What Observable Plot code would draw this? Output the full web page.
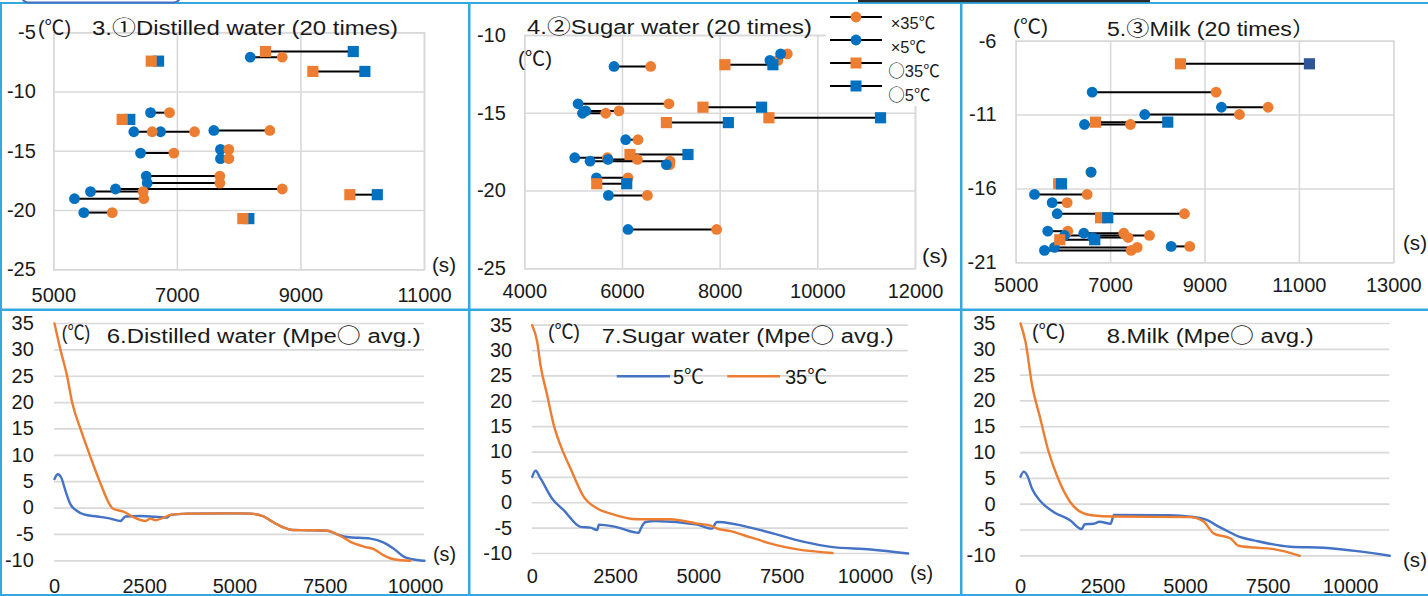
<!DOCTYPE html>
<html><head><meta charset="utf-8">
<script src="https://cdn.jsdelivr.net/npm/d3@7"></script>
<script src="https://cdn.jsdelivr.net/npm/@observablehq/plot@0.6"></script>
<style>
body{margin:0;background:#fff;}
#wrap{position:relative;width:1428px;height:596px;overflow:hidden;background:#fff;}
#wrap > div{position:absolute;}
#wrap svg{display:block;}
</style></head><body><div id="wrap"></div>
<script>
// ---------- Panel 3: Distilled water (20 times) ----------
const p3_x_temp = [-11.74, -13.35, -13.35, -13.24, -15.15, -14.84, -15.62, -17.09, -17.68, -18.18, -18.40, -19.00, -20.17, -7.06];
const p3_x_t5   = [6566, 6295, 6728, 7590, 6404, 7698, 7698, 6496, 6512, 5999, 5594, 5335, 5486, 8180];
const p3_x_t35  = [6873, 6593, 7278, 8497, 6943, 7833, 7833, 7688, 7688, 8698, 6447, 6457, 5946, 8698];
const p3_o_temp = [-7.39, -12.31, -6.58, -8.26, -18.66, -20.68];
const p3_o_t5   = [6695, 6230, 9847, 10035, 10236, 8157];
const p3_o_t35  = [6577, 6107, 8427, 9193, 9792, 8060];
const p3_xTicks = [5000, 7000, 9000, 11000];
const p3_yTicks = [-25, -20, -15, -10, -5];

// ---------- Panel 4: Sugar water (20 times) ----------
const p4_x_temp = [-11.99, -14.39, -15.00, -14.85, -11.60, -11.18, -16.70, -17.86, -17.97, -18.08, -18.30, -19.15, -20.28, -22.47];
const p4_x_t5   = [5827, 5091, 5181, 5248, 9019, 9238, 6066, 5023, 5704, 5336, 6899, 5467, 5712, 6114];
const p4_x_t35  = [6578, 6952, 5657, 5929, 9183, 9375, 6318, 5692, 6306, 6973, 6967, 6114, 6510, 7928];
const p4_o_temp = [-14.61, -15.60, -15.29, -11.88, -17.65, -19.53];
const p4_o_t5   = [8849, 8168, 11284, 9080, 7341, 6087];
const p4_o_t35  = [7648, 6899, 8998, 8098, 6154, 5473];
const p4_xTicks = [4000, 6000, 8000, 10000, 12000];
const p4_yTicks = [-25, -20, -15, -10];

// ---------- Panel 5: Milk (20 times) ----------
const p5_x_temp = [-9.45, -10.96, -10.47, -11.64, -14.86, -16.37, -16.93, -17.68, -18.86, -19.15, -19.00, -19.29, -19.89, -20.16, -19.96];
const p5_x_t5   = [6610, 7724, 9348, 6447, 6589, 5388, 5762, 5868, 5669, 6023, 6432, 6622, 8283, 5599, 5811];
const p5_x_t35  = [9236, 9730, 10337, 7421, 6580, 6504, 6080, 8565, 6093, 7824, 7279, 7372, 8677, 7436, 7563];
const p5_o_temp = [-7.53, -11.48, -15.65, -17.95, -19.44];
const p5_o_t5   = [11212, 8211, 5960, 6940, 6665];
const p5_o_t35  = [8480, 6680, 5900, 6788, 5923];
const p5_xTicks = [5000, 7000, 9000, 11000, 13000];
const p5_yTicks = [-21, -16, -11, -6];

// ---------- Bottom panels: average curves ----------
const d6_time5  = [0, 92, 185, 305, 443, 628, 812, 1182, 1551, 1828, 1967, 2382, 3122, 3213, 3675, 4875, 5429, 5798, 6075, 6352, 6584, 7000, 7554, 7831, 8108, 8753, 9122, 9399, 9676, 10047, 10249];
const d6_temp5  = [5.5, 6.4, 5.8, 3.25, 0.7, -0.55, -1.2, -1.6, -2.0, -2.45, -1.6, -1.5, -1.8, -1.3, -1.05, -1.0, -1.05, -1.6, -2.75, -3.7, -4.15, -4.2, -4.3, -4.97, -5.48, -5.8, -6.55, -7.7, -9.2, -9.85, -10.0];
const d6_time35 = [0, 166, 350, 490, 720, 980, 1255, 1600, 1690, 1920, 2152, 2521, 2659, 2798, 3028, 3213, 3675, 5152, 5429, 5798, 6075, 6352, 6584, 7000, 7554, 7922, 8199, 8568, 8845, 9122, 9399, 9861];
const d6_temp35 = [35, 30, 25, 20, 15, 10, 5, 0, -0.3, -0.7, -1.6, -2.45, -2.0, -2.3, -1.8, -1.3, -1.05, -1.0, -1.05, -1.6, -2.75, -3.7, -4.15, -4.2, -4.3, -5.3, -6.4, -7.3, -7.8, -8.96, -9.7, -10.0];

const d7_time5  = [0, 100, 250, 600, 950, 1450, 1750, 1950, 2000, 2500, 3200, 3250, 3400, 3700, 4950, 5400, 5500, 5555, 6855, 8155, 8960, 10160, 11280];
const d7_temp5  = [5.1, 6.3, 4.8, 0.8, -1.5, -4.75, -4.9, -5.4, -4.3, -4.75, -5.9, -5.2, -3.8, -3.6, -4.3, -5.1, -4.0, -3.8, -5.4, -7.7, -8.7, -9.2, -10.0];
const d7_time35 = [0, 150, 249, 450, 648, 849, 1149, 1548, 1950, 2349, 3150, 4149, 4950, 5354, 5555, 5955, 6355, 7360, 7960, 9010];
const d7_temp35 = [35, 31.7, 27.1, 21.2, 15.3, 11.3, 6.75, 1.16, -1.14, -2.13, -3.25, -3.25, -4.1, -4.5, -5.1, -5.6, -6.4, -8.4, -9.2, -9.9];

const d8_time5  = [0, 100, 200, 350, 600, 1000, 1500, 1850, 1950, 2200, 2400, 2730, 2830, 4500, 5150, 5660, 5960, 6265, 6615, 7070, 8180, 9190, 10200, 11190];
const d8_temp5  = [5.3, 6.3, 5.6, 3.0, 0.6, -1.5, -3.1, -4.8, -3.9, -3.8, -3.4, -3.8, -2.1, -2.15, -2.4, -3.1, -4.2, -5.2, -6.3, -7.0, -8.25, -8.45, -9.1, -10.0];
const d8_time35 = [0, 150, 350, 600, 850, 1100, 1500, 1820, 2220, 2820, 5150, 5555, 5860, 6365, 6615, 7070, 7675, 8465];
const d8_temp35 = [35, 31.5, 23.1, 16.6, 10.2, 5.6, 0.47, -1.5, -2.2, -2.4, -2.5, -3.4, -5.7, -6.65, -8.06, -8.4, -8.7, -10.0];

const line_xTicks = [0, 2500, 5000, 7500, 10000];
const line_yTicks = [-10, -5, 0, 5, 10, 15, 20, 25, 30, 35];

// ---------- styling ----------
const FONT = '"Liberation Sans", Arial, "Noto Sans CJK JP", sans-serif';
const CJK = '"Noto Sans CJK JP", "Noto Sans CJK SC", sans-serif';
const ORANGE = "#ED7D31", BLUE = "#0070C0", LBLUE = "#4472C4", GRID = "#D9D9D9", TXT = "#1a1a1a";
const wrap = document.getElementById("wrap");

function place(node, left, top) {
  const d = document.createElement("div");
  d.style.left = left + "px"; d.style.top = top + "px";
  d.appendChild(node); wrap.appendChild(d);
}
const pairs = (temp, t5, t35) => temp.map((y, i) => ({y, t5: t5[i], t35: t35[i]}));
const series = (t, v) => t.map((x, i) => ({t: x, v: v[i]}));
const fmt = d => String(d);

function dumbbell(o) {
  const cross = pairs(o.xTemp, o.x5, o.x35);
  const circ = pairs(o.oTemp, o.o5, o.o35);
  const marks = [
    Plot.ruleX(o.xTicks, {stroke: GRID, strokeWidth: 1.6}),
    Plot.ruleY(o.yTicks, {stroke: GRID, strokeWidth: 1.6}),
    Plot.frame({stroke: GRID, strokeWidth: 1.6}),
    Plot.axisX(o.xTicks, {tickSize: 0, tickPadding: o.xPad, label: null, tickFormat: fmt}),
    Plot.axisY(o.yTicks, {tickSize: 0, tickPadding: o.yPad, label: null, tickFormat: fmt}),
    Plot.link(cross, {x1: "t5", x2: "t35", y1: "y", y2: "y", stroke: "#000", strokeWidth: 2}),
    Plot.link(circ, {x1: "t5", x2: "t35", y1: "y", y2: "y", stroke: "#000", strokeWidth: 2})
  ];
  const layers = {
    x35: Plot.dot(cross, {x: "t35", y: "y", r: 5.4, fill: ORANGE}),
    x5: Plot.dot(cross, {x: "t5", y: "y", r: 5.4, fill: BLUE}),
    o35: Plot.dot(circ, {x: "t35", y: "y", r: 6.3, symbol: "square", fill: ORANGE}),
    o5: Plot.dot(circ, {x: "t5", y: "y", r: 6.3, symbol: "square", fill: o.o5Fill || BLUE})
  };
  o.order.forEach(k => marks.push(layers[k]));
  return Plot.plot({
    width: o.w, height: o.h,
    marginTop: o.m[0], marginRight: o.m[1], marginBottom: o.m[2], marginLeft: o.m[3],
    x: {domain: o.xDomain}, y: {domain: o.yDomain},
    color: {type: "identity"},
    style: {fontFamily: FONT, fontSize: "20px", color: TXT, background: "transparent", overflow: "visible"},
    marks
  });
}

function curves(o) {
  return Plot.plot({
    width: o.w, height: o.h,
    marginTop: o.m[0], marginRight: o.m[1], marginBottom: o.m[2], marginLeft: o.m[3],
    x: {domain: o.xDomain}, y: {domain: [-10, 35]},
    style: {fontFamily: FONT, fontSize: "20px", color: TXT, background: "transparent", overflow: "visible"},
    marks: [
      Plot.ruleY(line_yTicks, {stroke: GRID, strokeWidth: 1.7}),
      Plot.axisX(line_xTicks, {tickSize: 0, tickPadding: o.xPad, label: null, tickFormat: fmt}),
      Plot.axisY(line_yTicks, {tickSize: 0, tickPadding: o.yPad, label: null, tickFormat: fmt}),
      Plot.line(series(o.t5, o.v5), {x: "t", y: "v", stroke: LBLUE, strokeWidth: 2.4, curve: "monotone-x"}),
      Plot.line(series(o.t35, o.v35), {x: "t", y: "v", stroke: ORANGE, strokeWidth: 2.4, curve: "monotone-x"})
    ]
  });
}

place(dumbbell({w: 469, h: 309, m: [32.3, 45, 39.7, 53.3], xDomain: [5000, 11000], yDomain: [-25, -5],
  xTicks: p3_xTicks, yTicks: p3_yTicks, xPad: 18, yPad: 18,
  xTemp: p3_x_temp, x5: p3_x_t5, x35: p3_x_t35, oTemp: p3_o_temp, o5: p3_o_t5, o35: p3_o_t35,
  order: ["x5", "x35", "o5", "o35"]}), 0, 0);

place(dumbbell({w: 490, h: 309, m: [35, 45, 40.7, 54.3], xDomain: [4000, 12000], yDomain: [-25, -10],
  xTicks: p4_xTicks, yTicks: p4_yTicks, xPad: 15, yPad: 19,
  xTemp: p4_x_temp, x5: p4_x_t5, x35: p4_x_t35, oTemp: p4_o_temp, o5: p4_o_t5, o35: p4_o_t35,
  order: ["x35", "x5", "o35", "o5"]}), 470, 0);

place(dumbbell({w: 466, h: 309, m: [40.7, 34.7, 46.7, 53.7], xDomain: [5000, 13000], yDomain: [-21, -6],
  xTicks: p5_xTicks, yTicks: p5_yTicks, xPad: 15, yPad: 19.7,
  xTemp: p5_x_temp, x5: p5_x_t5, x35: p5_x_t35, oTemp: p5_o_temp, o5: p5_o_t5, o35: p5_o_t35,
  o5Fill: (d, i) => i === 0 ? "#2F5597" : BLUE,
  order: ["x35", "x5", "o35", "o5"]}), 962, 0);

place(curves({w: 469, h: 286, m: [13, 45, 35.7, 54], xDomain: [0, 10250], xPad: 18, yPad: 20.7,
  t5: d6_time5, v5: d6_temp5, t35: d6_time35, v35: d6_temp35}), 0, 310);
place(curves({w: 490, h: 286, m: [14.7, 52.3, 43, 61.7], xDomain: [0, 11280], xPad: 15, yPad: 20,
  t5: d7_time5, v5: d7_temp5, t35: d7_time35, v35: d7_temp35}), 470, 310);
place(curves({w: 466, h: 286, m: [13, 38.7, 40.7, 58], xDomain: [0, 11190], xPad: 23, yPad: 25,
  t5: d8_time5, v5: d8_temp5, t35: d8_time35, v35: d8_temp35}), 962, 310);

// ---------- overlay: panel borders, titles, legends ----------
const ov = d3.select(wrap).append("svg")
  .attr("width", 1428).attr("height", 596)
  .style("position", "absolute").style("left", 0).style("top", 0).style("pointer-events", "none");

const BORDER = "#35A8E0";
[[0, 2, 1428, 2], [0, 308.5, 1428, 2.5], [0, 594, 1428, 2], [0, 2, 2, 594], [468, 2, 2.5, 594], [960, 2, 2.5, 594]]
  .forEach(([x, y, w, h]) => ov.append("rect").attr("x", x).attr("y", y).attr("width", w).attr("height", h).attr("fill", BORDER));
ov.append("rect").attr("x", 22).attr("y", -20).attr("width", 158).attr("height", 22.5).attr("rx", 6)
  .attr("fill", "none").attr("stroke", "#4A6FC0").attr("stroke-width", 2);
ov.append("rect").attr("x", 858).attr("y", 0).attr("width", 292).attr("height", 2.2).attr("fill", "#2b2b2b");

// writes text, putting the white circle "○" in a CJK font (full-width, as in the reference)
function addText(t, x, y, size, len) {
  const el = ov.append("text").attr("x", x).attr("y", y).attr("font-family", FONT).attr("font-size", size).attr("fill", TXT);
  t.split(/(○)/).filter(s => s.length).forEach(s => {
    const ts = el.append("tspan").text(s);
    if (s === "○") ts.attr("font-family", CJK);
  });
  if (len) el.attr("textLength", len).attr("lengthAdjust", "spacingAndGlyphs");
  return el;
}

// panel 4 legend
ov.append("rect").attr("x", 826).attr("y", 4).attr("width", 128).attr("height", 102).attr("fill", "#fff");
const leg4 = [
  {label: "×35℃", y: 17, tb: 29, tx: 890.7, sym: "c", fill: ORANGE},
  {label: "×5℃", y: 40, tb: 53, tx: 890.7, sym: "c", fill: BLUE},
  {label: "○35℃", y: 63, tb: 77, tx: 888.3, sym: "s", fill: ORANGE},
  {label: "○5℃", y: 86, tb: 101, tx: 888.3, sym: "s", fill: BLUE}
];
leg4.forEach(e => {
  ov.append("line").attr("x1", 830).attr("x2", 882).attr("y1", e.y).attr("y2", e.y).attr("stroke", "#000").attr("stroke-width", 2);
  if (e.sym === "c") ov.append("circle").attr("cx", 856).attr("cy", e.y).attr("r", 5.4).attr("fill", e.fill);
  else ov.append("rect").attr("x", 850.5).attr("y", e.y - 5.5).attr("width", 11).attr("height", 11).attr("fill", e.fill);
  addText(e.label, e.tx, e.tb, 16.5, null);
});
// panel 7 legend
ov.append("line").attr("x1", 616.7).attr("x2", 670).attr("y1", 376.3).attr("y2", 376.3).attr("stroke", LBLUE).attr("stroke-width", 2.5);
ov.append("line").attr("x1", 727.3).attr("x2", 780).attr("y1", 376.3).attr("y2", 376.3).attr("stroke", ORANGE).attr("stroke-width", 2.5);

const texts = [
  ["(℃)", 38, 34.5, 33],
  ["3.①Distilled water (20 times)", 92, 35, 306],
  ["(s)", 432, 272, 24],
  ["4.②Sugar water (20 times)", 527, 33.5, 285],
  ["(℃)", 518, 66, 34],
  ["(s)", 922, 263, 26],
  ["(℃)", 1013, 34, 35],
  ["5.③Milk (20 times）", 1107, 36, 208],
  ["(s)", 1403, 250, 24],
  ["(℃)", 61.7, 339.5, 28.5],
  ["6.Distilled water (Mpe○ avg.)", 106.7, 343, 314],
  ["(s)", 433, 561, 23],
  ["(℃)", 548, 339, 32],
  ["7.Sugar water (Mpe○ avg.)", 601.7, 343, 292],
  ["5℃", 673, 384, null],
  ["35℃", 785, 384, null],
  ["(s)", 910, 580, 23],
  ["(℃)", 1032, 339, 33],
  ["8.Milk (Mpe○ avg.)", 1106.7, 343, 207],
  ["(s)", 1403, 567, 24]
];
texts.forEach(([t, x, y, len]) => addText(t, x, y, 20, len));
</script></body></html>
